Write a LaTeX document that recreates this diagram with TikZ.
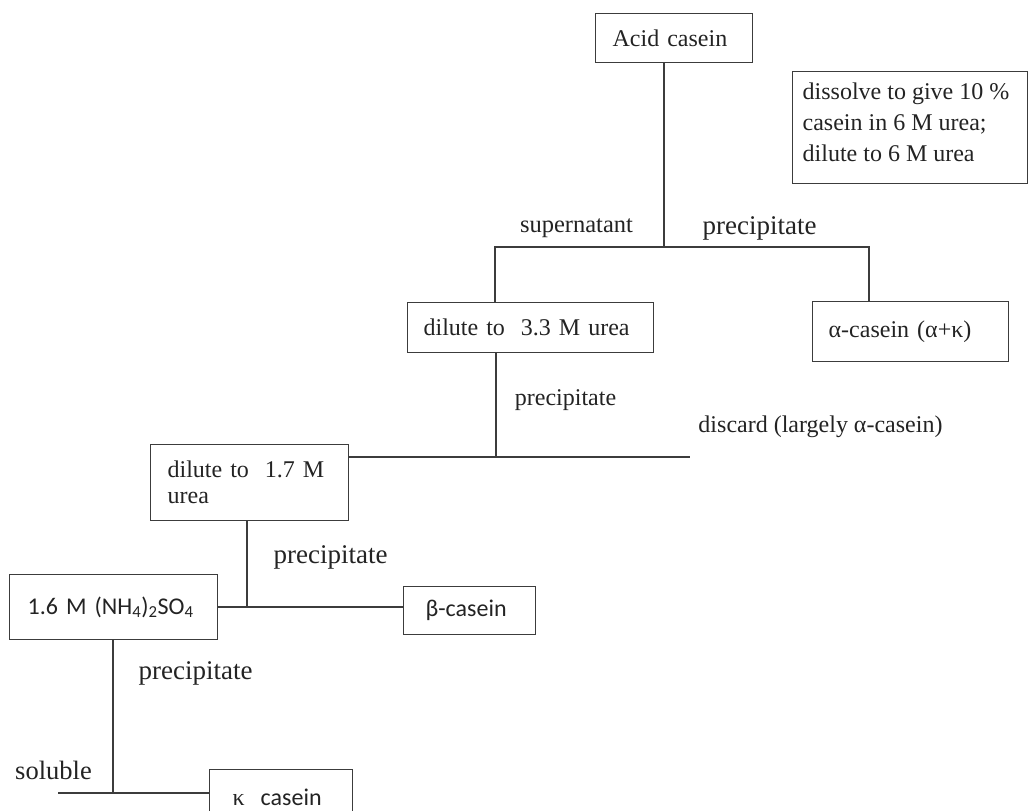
\documentclass[tikz,border=0pt]{standalone}
\usepackage{fontspec}
\setmainfont{Liberation Serif}
\newfontfamily\sansf{Carlito}
\definecolor{linecol}{RGB}{60,60,60}
\definecolor{txtcol}{RGB}{35,35,35}
\begin{document}
\begin{tikzpicture}[x=1pt,y=-1pt,
  conn/.style={draw=linecol, line width=1.3pt},
  box/.style={draw=linecol, line width=1.3pt, anchor=north west, inner ysep=0pt,
    align=left, text=txtcol, font=\fontsize{24}{26}\selectfont},
  sbox/.style={box, font=\sansf\fontsize{24}{26}\selectfont},
  lbl/.style={inner sep=0pt, anchor=center, text=txtcol}]
\useasboundingbox (0,0) rectangle (1031,811);
\clip (0,0) rectangle (1031,811);

% boxes
\node[box, minimum width=157pt, minimum height=49pt, text width=123pt, inner xsep=17pt] (acid) at (595,13) {Acid casein};
\node[box, minimum width=235pt, minimum height=112pt, inner xsep=10pt, font=\fontsize{24}{31}\selectfont] (note) at (792,71)
  {\raisebox{5pt}[\height][\depth]{\parbox{215pt}{\raggedright dissolve to give 10 \%\\casein in 6 M urea;\\dilute to 6 M urea}}};
\node[box, minimum width=246pt, minimum height=50pt, text width=214pt, inner xsep=16pt] (b33) at (407,302) {dilute to\ \ 3.3 M urea};
\node[box, minimum width=196pt, minimum height=60pt, text width=164pt, inner xsep=16pt] (alpha) at (812,301) {α-casein (α+κ)};
\node[box, minimum width=198pt, minimum height=76pt, text width=164pt, inner xsep=17pt] (b17) at (150,444) {dilute to\ \ 1.7 M\\urea};
\node[sbox, minimum width=208pt, minimum height=65pt, text width=172pt, inner xsep=18pt] (b16) at (9,574) {1.6 M (NH\textsubscript{4})\textsubscript{2}SO\textsubscript{4}};
\node[sbox, minimum width=132pt, minimum height=48pt, text width=88pt, inner xsep=22pt] (beta) at (403,586) {β-casein};
\node[sbox, minimum width=143pt, minimum height=56pt, text width=97pt, inner xsep=23pt] (kappa) at (209,769) {{\rmfamily κ}\hspace{16pt}casein};

% junction coordinates
\coordinate (j1) at (664,247);
\coordinate (jl) at (495,247);
\coordinate (jr) at (869,247);
\coordinate (j2) at (496,457);
\coordinate (dend) at (690,457);
\coordinate (j3) at (247,607);
\coordinate (j4) at (113,793);
\coordinate (send) at (58,793);

% connectors
\draw[conn] (j1 |- acid.south) -- (j1);
\draw[conn] (jl |- b33.north) -- (jl) -- (jr) -- (jr |- alpha.north);
\draw[conn] (j2 |- b33.south) -- (j2);
\draw[conn] (b17.east |- j2) -- (dend);
\draw[conn] (j3 |- b17.south) -- (j3);
\draw[conn] (b16.east |- j3) -- (beta.west |- j3);
\draw[conn] (j4 |- b16.south) -- (j4);
\draw[conn] (send) -- (kappa.west |- j4);

% labels
\node[lbl, font=\fontsize{24.5}{26}\selectfont] (lsup) at (576.5,228) {supernatant};
\node[lbl, font=\fontsize{27}{29}\selectfont] (lpre1) at (759.5,228) {precipitate};
\node[lbl, font=\fontsize{24}{26}\selectfont] (lpre2) at (565.5,400) {precipitate};
\node[lbl, font=\fontsize{24}{26}\selectfont] (ldis) at (820.5,427) {discard (largely α-casein)};
\node[lbl, font=\fontsize{27}{29}\selectfont] (lpre3) at (330.5,557) {precipitate};
\node[lbl, font=\fontsize{27}{29}\selectfont] (lpre4) at (195.5,673) {precipitate};
\node[lbl, font=\fontsize{26.5}{28}\selectfont] (lsol) at (53.5,770) {soluble};
\end{tikzpicture}
\end{document}
